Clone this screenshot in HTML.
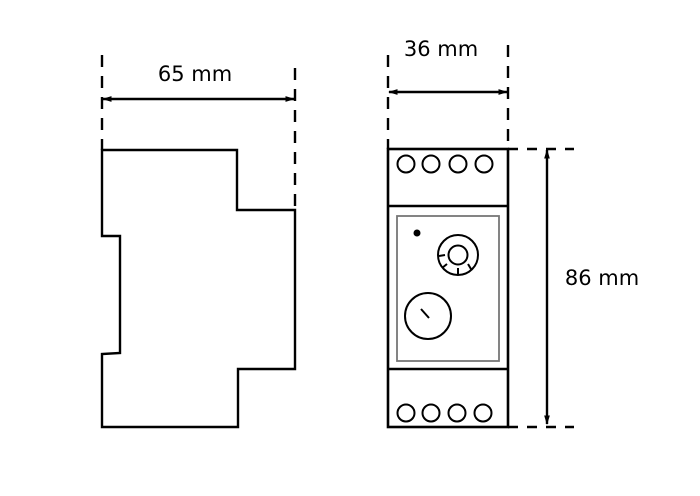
<!DOCTYPE html>
<html><head><meta charset="utf-8"><style>
html,body{margin:0;padding:0;background:#fff;}
svg{display:block;}
text{font-family:"DejaVu Sans","Liberation Sans",sans-serif;font-size:21px;fill:#000;}
</style></head><body>
<svg width="700" height="496" viewBox="0 0 700 496" xmlns="http://www.w3.org/2000/svg">
<defs>
<marker id="a" viewBox="0 0 10 10" refX="9" refY="5" markerWidth="4" markerHeight="4" orient="auto-start-reverse"><path d="M0,2 L10,5 L0,8 z" fill="#000"/></marker>
</defs>
<g stroke="#000" stroke-width="2.4" fill="none">
<path d="M102,150 H237 V210 H295 V369 H238 V427 H102 V354 L120,353 V236 H102 Z"/>
<line x1="102" y1="55" x2="102" y2="150" stroke-dasharray="12,9"/>
<line x1="295" y1="68" x2="295" y2="210" stroke-dasharray="12,9"/>
<line x1="103" y1="99" x2="294" y2="99" marker-start="url(#a)" marker-end="url(#a)"/>
<rect x="388" y="149" width="120" height="278" stroke-width="2.6"/>
<line x1="388" y1="206" x2="508" y2="206" stroke-width="2.6"/>
<line x1="388" y1="369" x2="508" y2="369" stroke-width="2.6"/>
<rect x="397" y="216" width="102" height="145" stroke="#777" stroke-width="1.8"/>
<g stroke-width="2">
<circle cx="406" cy="164" r="8.5"/><circle cx="431" cy="164" r="8.5"/><circle cx="458" cy="164" r="8.5"/><circle cx="484" cy="164" r="8.5"/>
<circle cx="406" cy="413" r="8.5"/><circle cx="431" cy="413" r="8.5"/><circle cx="457" cy="413" r="8.5"/><circle cx="483" cy="413" r="8.5"/>
<circle cx="458" cy="255" r="20"/><circle cx="458" cy="255" r="9.5"/>
<line x1="439" y1="256" x2="445" y2="255"/>
<line x1="442" y1="268" x2="447" y2="264"/>
<line x1="458" y1="275" x2="458" y2="268"/>
<line x1="471" y1="269" x2="468" y2="264"/>
<circle cx="428" cy="316" r="23"/>
<line x1="421" y1="309" x2="429" y2="318"/>
</g>
<circle cx="417" cy="233" r="3.5" fill="#000" stroke="none"/>
<line x1="388" y1="55" x2="388" y2="149" stroke-dasharray="12,9"/>
<line x1="508" y1="45" x2="508" y2="149" stroke-dasharray="12,9"/>
<line x1="389" y1="92" x2="507" y2="92" marker-start="url(#a)" marker-end="url(#a)"/>
<line x1="508" y1="149" x2="574" y2="149" stroke-dasharray="10,9"/>
<line x1="508" y1="427" x2="574" y2="427" stroke-dasharray="10,9"/>
<line x1="547" y1="150" x2="547" y2="424" marker-start="url(#a)" marker-end="url(#a)"/>
</g>
<text x="195" y="81" text-anchor="middle">65 mm</text>
<text x="441" y="56" text-anchor="middle">36 mm</text>
<text x="602" y="285" text-anchor="middle">86 mm</text>
</svg>
</body></html>
